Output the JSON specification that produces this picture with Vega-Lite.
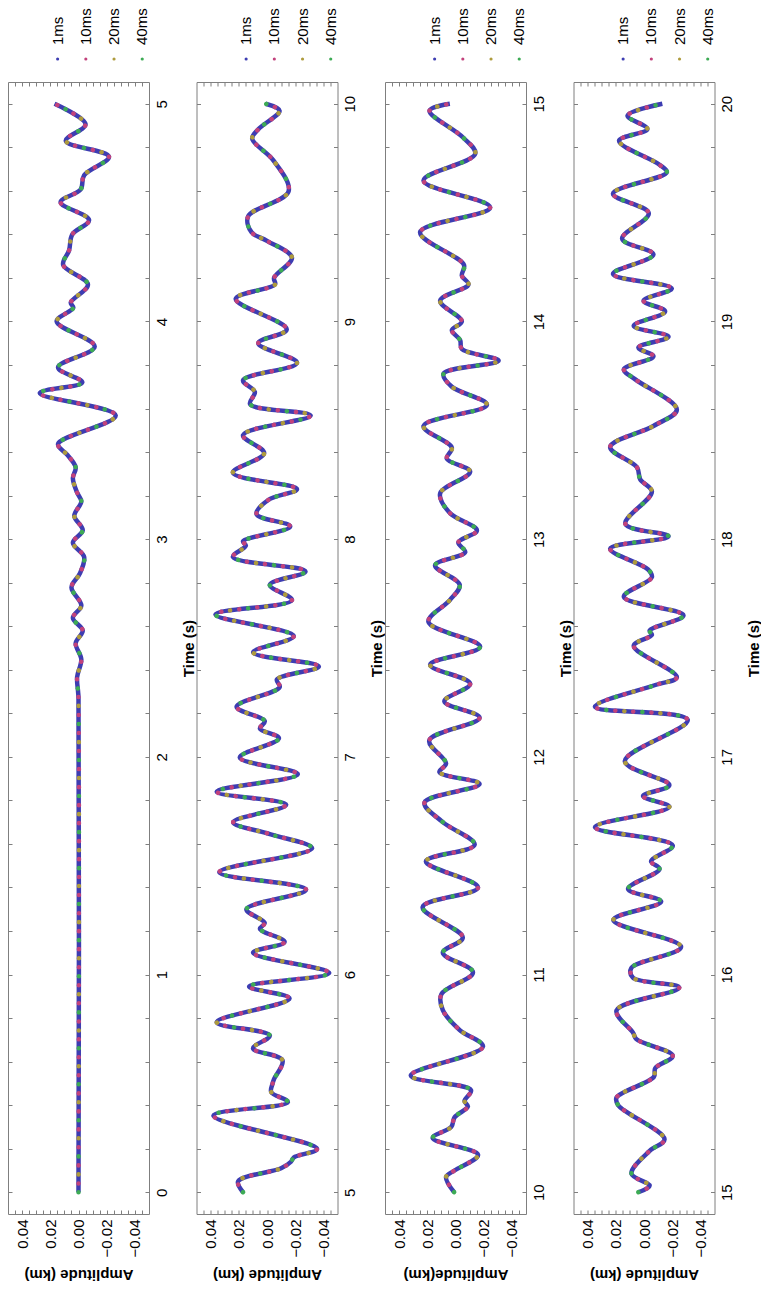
{
  "$schema": "https://vega.github.io/schema/vega-lite/v6.json",
  "background": "white",
  "padding": {"left": 7, "top": 8, "right": 0, "bottom": 0},
  "autosize": {"type": "pad"},
  "config": {
    "font": "Liberation Sans",
    "axis": {"labelFont": "Liberation Sans", "titleFont": "Liberation Sans", "labelColor": "#000", "titleColor": "#000", "tickColor": "#7f7f7f", "tickWidth": 1, "domain": false, "grid": false, "labelFontSize": 15, "titleFontSize": 15, "titleFontWeight": "bold"},
    "view": {"stroke": "#7f7f7f", "strokeWidth": 1}
  },
  "datasets": {
    "series": [{"series": "1ms"}, {"series": "10ms"}, {"series": "20ms"}, {"series": "40ms"}],
    "wave": [
      {"t": 0, "amp": 0}, {"t": 2.27, "amp": 0}, {"t": 2.3, "amp": 0.0003}, {"t": 2.366, "amp": 0.001}, {"t": 2.448, "amp": -0.002},
      {"t": 2.522, "amp": 0.002}, {"t": 2.58, "amp": -0.003}, {"t": 2.638, "amp": 0.004}, {"t": 2.695, "amp": -0.002}, {"t": 2.778, "amp": 0.005},
      {"t": 2.843, "amp": -0.001}, {"t": 2.918, "amp": -0.004}, {"t": 2.984, "amp": 0.004}, {"t": 3.041, "amp": -0.003}, {"t": 3.107, "amp": 0.003},
      {"t": 3.173, "amp": -0.002}, {"t": 3.214, "amp": 0.001}, {"t": 3.28, "amp": 0.004}, {"t": 3.33, "amp": 0.002}, {"t": 3.387, "amp": 0.0079},
      {"t": 3.437, "amp": 0.0145}, {"t": 3.568, "amp": -0.0264}, {"t": 3.671, "amp": 0.0275}, {"t": 3.72, "amp": -0.0027}, {"t": 3.789, "amp": 0.0145},
      {"t": 3.885, "amp": -0.0115}, {"t": 4.0, "amp": 0.0155}, {"t": 4.063, "amp": 0.0037}, {"t": 4.087, "amp": 0.0055}, {"t": 4.17, "amp": -0.0067},
      {"t": 4.26, "amp": 0.0109}, {"t": 4.326, "amp": 0.0067}, {"t": 4.4, "amp": 0.0044}, {"t": 4.466, "amp": -0.0075}, {"t": 4.548, "amp": 0.0127},
      {"t": 4.606, "amp": -0.0015}, {"t": 4.672, "amp": -0.004}, {"t": 4.757, "amp": -0.0216}, {"t": 4.83, "amp": 0.009}, {"t": 4.906, "amp": -0.005},
      {"t": 5.0, "amp": 0.017}, {"t": 5.05, "amp": 0.0205}, {"t": 5.11, "amp": -0.01}, {"t": 5.14, "amp": -0.017}, {"t": 5.16, "amp": -0.019},
      {"t": 5.199, "amp": -0.0355}, {"t": 5.352, "amp": 0.038}, {"t": 5.414, "amp": -0.0148}, {"t": 5.46, "amp": -0.003}, {"t": 5.5, "amp": -0.004},
      {"t": 5.52, "amp": -0.005}, {"t": 5.606, "amp": -0.011}, {"t": 5.661, "amp": 0.0099}, {"t": 5.72, "amp": -0.002}, {"t": 5.781, "amp": 0.0357},
      {"t": 5.89, "amp": -0.016}, {"t": 5.945, "amp": 0.0127}, {"t": 6.007, "amp": -0.0442}, {"t": 6.1, "amp": 0.0099}, {"t": 6.15, "amp": -0.0125},
      {"t": 6.21, "amp": 0.005}, {"t": 6.237, "amp": 0.0016}, {"t": 6.3, "amp": 0.0146}, {"t": 6.39, "amp": -0.0277}, {"t": 6.47, "amp": 0.0338},
      {"t": 6.58, "amp": -0.032}, {"t": 6.645, "amp": -0.002}, {"t": 6.7, "amp": 0.024}, {"t": 6.78, "amp": -0.0136}, {"t": 6.84, "amp": 0.0357},
      {"t": 6.92, "amp": -0.0219}, {"t": 6.997, "amp": 0.0193}, {"t": 7.085, "amp": -0.0085}, {"t": 7.13, "amp": 0.005}, {"t": 7.164, "amp": 0.0016},
      {"t": 7.23, "amp": 0.0216}, {"t": 7.32, "amp": -0.009}, {"t": 7.355, "amp": -0.007}, {"t": 7.415, "amp": -0.0368}, {"t": 7.48, "amp": 0.0098},
      {"t": 7.555, "amp": -0.019}, {"t": 7.654, "amp": 0.0366}, {"t": 7.72, "amp": -0.0177}, {"t": 7.79, "amp": -0.002}, {"t": 7.852, "amp": -0.0273},
      {"t": 7.918, "amp": 0.0242}, {"t": 7.97, "amp": 0.015}, {"t": 7.99, "amp": 0.017}, {"t": 8.058, "amp": -0.0165}, {"t": 8.115, "amp": 0.0074},
      {"t": 8.18, "amp": -0.0009}, {"t": 8.23, "amp": -0.0213}, {"t": 8.305, "amp": 0.0242}, {"t": 8.395, "amp": 0.002}, {"t": 8.478, "amp": 0.017},
      {"t": 8.568, "amp": -0.031}, {"t": 8.62, "amp": 0.012}, {"t": 8.676, "amp": 0.0086}, {"t": 8.73, "amp": 0.017}, {"t": 8.81, "amp": -0.0213},
      {"t": 8.9, "amp": 0.0062}, {"t": 8.964, "amp": -0.014}, {"t": 9.104, "amp": 0.0222}, {"t": 9.17, "amp": -0.0057}, {"t": 9.2, "amp": -0.005},
      {"t": 9.293, "amp": -0.0177}, {"t": 9.37, "amp": 0.0}, {"t": 9.41, "amp": 0.011}, {"t": 9.483, "amp": 0.0134}, {"t": 9.598, "amp": -0.0153},
      {"t": 9.74, "amp": -0.0045}, {"t": 9.84, "amp": 0.0105}, {"t": 9.884, "amp": 0.006}, {"t": 9.968, "amp": -0.0089}, {"t": 10.0, "amp": 0.001},
      {"t": 10.07, "amp": 0.0067}, {"t": 10.1, "amp": 0.0007}, {"t": 10.172, "amp": -0.016}, {"t": 10.249, "amp": 0.0162}, {"t": 10.3, "amp": 0.003},
      {"t": 10.344, "amp": 0.0007}, {"t": 10.394, "amp": -0.0088}, {"t": 10.419, "amp": -0.0064}, {"t": 10.469, "amp": -0.011}, {"t": 10.536, "amp": 0.0317},
      {"t": 10.669, "amp": -0.0195}, {"t": 10.745, "amp": -0.003}, {"t": 10.836, "amp": 0.009}, {"t": 10.91, "amp": 0.01}, {"t": 11.01, "amp": -0.0124},
      {"t": 11.1, "amp": 0.009}, {"t": 11.17, "amp": -0.0052}, {"t": 11.31, "amp": 0.0233}, {"t": 11.4, "amp": -0.016}, {"t": 11.52, "amp": 0.021},
      {"t": 11.596, "amp": -0.0136}, {"t": 11.7, "amp": 0.009}, {"t": 11.79, "amp": 0.022}, {"t": 11.875, "amp": -0.0171}, {"t": 11.93, "amp": 0.0114},
      {"t": 11.97, "amp": 0.0067}, {"t": 12.075, "amp": 0.0186}, {"t": 12.18, "amp": -0.0171}, {"t": 12.255, "amp": 0.0079}, {"t": 12.336, "amp": -0.0104},
      {"t": 12.423, "amp": 0.018}, {"t": 12.506, "amp": -0.0175}, {"t": 12.62, "amp": 0.0192}, {"t": 12.72, "amp": 0.004}, {"t": 12.79, "amp": -0.003},
      {"t": 12.88, "amp": 0.0145}, {"t": 12.94, "amp": -0.0069}, {"t": 12.985, "amp": -0.002}, {"t": 13.04, "amp": -0.0152}, {"t": 13.12, "amp": 0.004},
      {"t": 13.21, "amp": 0.0109}, {"t": 13.31, "amp": -0.0104}, {"t": 13.37, "amp": 0.0062}, {"t": 13.42, "amp": 0.0026}, {"t": 13.52, "amp": 0.0227},
      {"t": 13.617, "amp": -0.0223}, {"t": 13.7, "amp": 0.0026}, {"t": 13.76, "amp": 0.0085}, {"t": 13.82, "amp": -0.0306}, {"t": 13.873, "amp": -0.0045},
      {"t": 13.914, "amp": -0.0033}, {"t": 13.96, "amp": 0.0026}, {"t": 14.0, "amp": -0.0045}, {"t": 14.095, "amp": 0.0109}, {"t": 14.17, "amp": -0.0092},
      {"t": 14.21, "amp": -0.0045}, {"t": 14.26, "amp": -0.006}, {"t": 14.41, "amp": 0.0251}, {"t": 14.524, "amp": -0.0246}, {"t": 14.647, "amp": 0.0227},
      {"t": 14.77, "amp": -0.014}, {"t": 14.846, "amp": -0.0052}, {"t": 14.968, "amp": 0.0184}, {"t": 15.0, "amp": 0.004}, {"t": 15.03, "amp": -0.004},
      {"t": 15.085, "amp": 0.0089}, {"t": 15.19, "amp": -0.004}, {"t": 15.243, "amp": -0.0146}, {"t": 15.4, "amp": 0.0183}, {"t": 15.435, "amp": 0.0195},
      {"t": 15.53, "amp": -0.007}, {"t": 15.57, "amp": -0.008}, {"t": 15.627, "amp": -0.0204}, {"t": 15.703, "amp": 0.0054}, {"t": 15.733, "amp": 0.0078},
      {"t": 15.835, "amp": 0.0195}, {"t": 15.94, "amp": -0.025}, {"t": 15.985, "amp": 0.0078}, {"t": 16.03, "amp": 0.009}, {"t": 16.127, "amp": -0.0263},
      {"t": 16.25, "amp": 0.0218}, {"t": 16.335, "amp": -0.0122}, {"t": 16.393, "amp": 0.0113}, {"t": 16.485, "amp": -0.011}, {"t": 16.52, "amp": -0.005},
      {"t": 16.593, "amp": -0.0204}, {"t": 16.677, "amp": 0.0348}, {"t": 16.77, "amp": -0.018}, {"t": 16.82, "amp": 0.0007}, {"t": 16.87, "amp": -0.018},
      {"t": 16.98, "amp": 0.0136}, {"t": 17.17, "amp": -0.031}, {"t": 17.23, "amp": 0.0348}, {"t": 17.33, "amp": -0.008}, {"t": 17.366, "amp": -0.0233},
      {"t": 17.51, "amp": 0.0073}, {"t": 17.56, "amp": -0.0056}, {"t": 17.58, "amp": -0.004}, {"t": 17.65, "amp": -0.028}, {"t": 17.735, "amp": 0.0143},
      {"t": 17.825, "amp": -0.0056}, {"t": 17.86, "amp": -0.003}, {"t": 17.956, "amp": 0.024}, {"t": 18.013, "amp": -0.0174}, {"t": 18.07, "amp": 0.0132},
      {"t": 18.218, "amp": -0.0056}, {"t": 18.275, "amp": 0.0027}, {"t": 18.33, "amp": 0.005}, {"t": 18.423, "amp": 0.024}, {"t": 18.52, "amp": -0.0067},
      {"t": 18.595, "amp": -0.0233}, {"t": 18.734, "amp": 0.0062}, {"t": 18.78, "amp": 0.0143}, {"t": 18.84, "amp": -0.0067}, {"t": 18.88, "amp": 0.004},
      {"t": 18.93, "amp": -0.0174}, {"t": 18.98, "amp": 0.0073}, {"t": 19.046, "amp": -0.015}, {"t": 19.095, "amp": 0.0003}, {"t": 19.152, "amp": -0.0197},
      {"t": 19.218, "amp": 0.022}, {"t": 19.308, "amp": -0.0067}, {"t": 19.38, "amp": 0.0155}, {"t": 19.497, "amp": -0.0034}, {"t": 19.587, "amp": 0.022},
      {"t": 19.685, "amp": -0.0162}, {"t": 19.72, "amp": -0.011}, {"t": 19.83, "amp": 0.0177}, {"t": 19.884, "amp": -0.0024}, {"t": 19.945, "amp": 0.0117},
      {"t": 20.0, "amp": -0.013}
    ]
  },
  "spacing": 12,
  "vconcat": [
    {
      "spacing": 47.5, "bounds": "flush",
      "hconcat": [
        {
          "width": 141, "height": 20, "view": {"stroke": null},
          "data": {"name": "series"},
          "encoding": {"x": {"field": "series", "type": "nominal", "sort": null, "scale": {"type": "point", "domain": ["1ms", "10ms", "20ms", "40ms"], "padding": 1.02, "align": 0.88}, "axis": null}},
          "layer": [
            {"mark": {"type": "point", "filled": true, "size": 10, "opacity": 1},
             "encoding": {"color": {"field": "series", "type": "nominal", "scale": {"domain": ["1ms", "10ms", "20ms", "40ms"], "range": ["#3d3db2", "#c2427c", "#ae9b3d", "#3dab55"]}, "legend": null}}},
            {"mark": {"type": "text", "angle": 270, "align": "left", "baseline": "middle", "fontSize": 15, "font": "Liberation Sans", "color": "#000", "yOffset": -14},
             "encoding": {"text": {"field": "series"}}}
          ]
        },
        {
          "width": 141, "height": 20, "view": {"stroke": null},
          "data": {"name": "series"},
          "encoding": {"x": {"field": "series", "type": "nominal", "sort": null, "scale": {"type": "point", "domain": ["1ms", "10ms", "20ms", "40ms"], "padding": 1.02, "align": 0.88}, "axis": null}},
          "layer": [
            {"mark": {"type": "point", "filled": true, "size": 10, "opacity": 1},
             "encoding": {"color": {"field": "series", "type": "nominal", "scale": {"domain": ["1ms", "10ms", "20ms", "40ms"], "range": ["#3d3db2", "#c2427c", "#ae9b3d", "#3dab55"]}, "legend": null}}},
            {"mark": {"type": "text", "angle": 270, "align": "left", "baseline": "middle", "fontSize": 15, "font": "Liberation Sans", "color": "#000", "yOffset": -14},
             "encoding": {"text": {"field": "series"}}}
          ]
        },
        {
          "width": 141, "height": 20, "view": {"stroke": null},
          "data": {"name": "series"},
          "encoding": {"x": {"field": "series", "type": "nominal", "sort": null, "scale": {"type": "point", "domain": ["1ms", "10ms", "20ms", "40ms"], "padding": 1.02, "align": 0.88}, "axis": null}},
          "layer": [
            {"mark": {"type": "point", "filled": true, "size": 10, "opacity": 1},
             "encoding": {"color": {"field": "series", "type": "nominal", "scale": {"domain": ["1ms", "10ms", "20ms", "40ms"], "range": ["#3d3db2", "#c2427c", "#ae9b3d", "#3dab55"]}, "legend": null}}},
            {"mark": {"type": "text", "angle": 270, "align": "left", "baseline": "middle", "fontSize": 15, "font": "Liberation Sans", "color": "#000", "yOffset": -14},
             "encoding": {"text": {"field": "series"}}}
          ]
        },
        {
          "width": 141, "height": 20, "view": {"stroke": null},
          "data": {"name": "series"},
          "encoding": {"x": {"field": "series", "type": "nominal", "sort": null, "scale": {"type": "point", "domain": ["1ms", "10ms", "20ms", "40ms"], "padding": 1.02, "align": 0.88}, "axis": null}},
          "layer": [
            {"mark": {"type": "point", "filled": true, "size": 10, "opacity": 1},
             "encoding": {"color": {"field": "series", "type": "nominal", "scale": {"domain": ["1ms", "10ms", "20ms", "40ms"], "range": ["#3d3db2", "#c2427c", "#ae9b3d", "#3dab55"]}, "legend": null}}},
            {"mark": {"type": "text", "angle": 270, "align": "left", "baseline": "middle", "fontSize": 15, "font": "Liberation Sans", "color": "#000", "yOffset": -14},
             "encoding": {"text": {"field": "series"}}}
          ]
        }
      ]
    },
    {
      "spacing": 47.5, "bounds": "flush",
      "hconcat": [
        {
          "width": 141, "height": 1132,
          "data": {"name": "wave"},
          "transform": [{"filter": "datum.t >= 0 && datum.t <= 5"}],
          "resolve": {"axis": {"x": "independent", "y": "independent"}},
          "layer": [
            {"mark": {"type": "line", "interpolate": "catmull-rom", "strokeWidth": 4.5},
             "encoding": {
               "x": {"field": "amp", "type": "quantitative", "scale": {"domain": [-0.05, 0.05], "reverse": true, "nice": false, "zero": false},
                     "axis": {"orient": "bottom", "values": [-0.045, -0.04, -0.035, -0.03, -0.025, -0.02, -0.015, -0.01, -0.005, 0, 0.005, 0.01, 0.015, 0.02, 0.025, 0.03, 0.035, 0.04, 0.045], "labelExpr": "abs(datum.value) < 0.041 && abs(datum.value*50 - round(datum.value*50)) < 1e-6 ? format(datum.value, '.2f') : ''", "labelAngle": 270, "labelAlign": "right", "labelBaseline": "middle", "labelPadding": 9, "labelOverlap": false, "labelFlush": false, "tickSize": -4, "title": "Amplitude (km)", "titleAngle": 180, "titleBaseline": "bottom", "titlePadding": 10}},
               "y": {"field": "t", "type": "quantitative", "scale": {"domain": [-0.1, 5.1], "nice": false, "zero": false},
                     "axis": {"orient": "right", "values": [0, 0.2, 0.4, 0.6, 0.8, 1, 1.2, 1.4, 1.6, 1.8, 2, 2.2, 2.4, 2.6, 2.8, 3, 3.2, 3.4, 3.6, 3.8, 4, 4.2, 4.4, 4.6, 4.8, 5], "labelExpr": "abs(datum.value - round(datum.value)) < 1e-6 ? format(datum.value, 'd') : ''", "labelAngle": 270, "labelAlign": "center", "labelBaseline": "middle", "labelPadding": 16, "labelOverlap": false, "labelFlush": false, "tickSize": -4, "title": "Time (s)", "titleAngle": 270, "titleBaseline": "top", "titlePadding": 12}},
               "order": {"field": "t", "type": "quantitative"},
               "color": {"datum": "1ms", "type": "nominal", "scale": {"domain": ["1ms", "10ms", "20ms", "40ms"], "range": ["#3d3db2", "#c2427c", "#ae9b3d", "#3dab55"]}, "legend": null}}},
            {"mark": {"type": "line", "interpolate": "catmull-rom", "strokeWidth": 4.5, "strokeCap": "round", "strokeDash": [0.1, 17.9], "strokeDashOffset": -9},
             "encoding": {
               "x": {"field": "amp", "type": "quantitative", "axis": {"orient": "top", "values": [-0.045, -0.04, -0.035, -0.03, -0.025, -0.02, -0.015, -0.01, -0.005, 0, 0.005, 0.01, 0.015, 0.02, 0.025, 0.03, 0.035, 0.04, 0.045], "labels": false, "tickSize": -4, "title": null}},
               "y": {"field": "t", "type": "quantitative", "axis": {"orient": "left", "values": [0, 0.2, 0.4, 0.6, 0.8, 1, 1.2, 1.4, 1.6, 1.8, 2, 2.2, 2.4, 2.6, 2.8, 3, 3.2, 3.4, 3.6, 3.8, 4, 4.2, 4.4, 4.6, 4.8, 5], "labels": false, "tickSize": -4, "title": null}},
               "order": {"field": "t", "type": "quantitative"},
               "color": {"datum": "10ms", "type": "nominal", "legend": null}}},
            {"mark": {"type": "line", "interpolate": "catmull-rom", "strokeWidth": 4.5, "strokeCap": "round", "strokeDash": [0.1, 35.9], "strokeDashOffset": -18},
             "encoding": {
               "x": {"field": "amp", "type": "quantitative", "axis": null},
               "y": {"field": "t", "type": "quantitative", "axis": null},
               "order": {"field": "t", "type": "quantitative"},
               "color": {"datum": "20ms", "type": "nominal", "legend": null}}},
            {"mark": {"type": "line", "interpolate": "catmull-rom", "strokeWidth": 4.5, "strokeCap": "round", "strokeDash": [0.1, 35.9], "strokeDashOffset": 0},
             "encoding": {
               "x": {"field": "amp", "type": "quantitative", "axis": null},
               "y": {"field": "t", "type": "quantitative", "axis": null},
               "order": {"field": "t", "type": "quantitative"},
               "color": {"datum": "40ms", "type": "nominal", "legend": null}}}
          ]
        },
        {
          "width": 141, "height": 1132,
          "data": {"name": "wave"},
          "transform": [{"filter": "datum.t >= 5 && datum.t <= 10"}],
          "resolve": {"axis": {"x": "independent", "y": "independent"}},
          "layer": [
            {"mark": {"type": "line", "interpolate": "catmull-rom", "strokeWidth": 4.5},
             "encoding": {
               "x": {"field": "amp", "type": "quantitative", "scale": {"domain": [-0.05, 0.05], "reverse": true, "nice": false, "zero": false},
                     "axis": {"orient": "bottom", "values": [-0.045, -0.04, -0.035, -0.03, -0.025, -0.02, -0.015, -0.01, -0.005, 0, 0.005, 0.01, 0.015, 0.02, 0.025, 0.03, 0.035, 0.04, 0.045], "labelExpr": "abs(datum.value) < 0.041 && abs(datum.value*50 - round(datum.value*50)) < 1e-6 ? format(datum.value, '.2f') : ''", "labelAngle": 270, "labelAlign": "right", "labelBaseline": "middle", "labelPadding": 9, "labelOverlap": false, "labelFlush": false, "tickSize": -4, "title": "Amplitude (km)", "titleAngle": 180, "titleBaseline": "bottom", "titlePadding": 10}},
               "y": {"field": "t", "type": "quantitative", "scale": {"domain": [4.9, 10.1], "nice": false, "zero": false},
                     "axis": {"orient": "right", "values": [5, 5.2, 5.4, 5.6, 5.8, 6, 6.2, 6.4, 6.6, 6.8, 7, 7.2, 7.4, 7.6, 7.8, 8, 8.2, 8.4, 8.6, 8.8, 9, 9.2, 9.4, 9.6, 9.8, 10], "labelExpr": "abs(datum.value - round(datum.value)) < 1e-6 ? format(datum.value, 'd') : ''", "labelAngle": 270, "labelAlign": "center", "labelBaseline": "middle", "labelPadding": 16, "labelOverlap": false, "labelFlush": false, "tickSize": -4, "title": "Time (s)", "titleAngle": 270, "titleBaseline": "top", "titlePadding": 12}},
               "order": {"field": "t", "type": "quantitative"},
               "color": {"datum": "1ms", "type": "nominal", "scale": {"domain": ["1ms", "10ms", "20ms", "40ms"], "range": ["#3d3db2", "#c2427c", "#ae9b3d", "#3dab55"]}, "legend": null}}},
            {"mark": {"type": "line", "interpolate": "catmull-rom", "strokeWidth": 4.5, "strokeCap": "round", "strokeDash": [0.1, 17.9], "strokeDashOffset": -9},
             "encoding": {
               "x": {"field": "amp", "type": "quantitative", "axis": {"orient": "top", "values": [-0.045, -0.04, -0.035, -0.03, -0.025, -0.02, -0.015, -0.01, -0.005, 0, 0.005, 0.01, 0.015, 0.02, 0.025, 0.03, 0.035, 0.04, 0.045], "labels": false, "tickSize": -4, "title": null}},
               "y": {"field": "t", "type": "quantitative", "axis": {"orient": "left", "values": [5, 5.2, 5.4, 5.6, 5.8, 6, 6.2, 6.4, 6.6, 6.8, 7, 7.2, 7.4, 7.6, 7.8, 8, 8.2, 8.4, 8.6, 8.8, 9, 9.2, 9.4, 9.6, 9.8, 10], "labels": false, "tickSize": -4, "title": null}},
               "order": {"field": "t", "type": "quantitative"},
               "color": {"datum": "10ms", "type": "nominal", "legend": null}}},
            {"mark": {"type": "line", "interpolate": "catmull-rom", "strokeWidth": 4.5, "strokeCap": "round", "strokeDash": [0.1, 35.9], "strokeDashOffset": -18},
             "encoding": {
               "x": {"field": "amp", "type": "quantitative", "axis": null},
               "y": {"field": "t", "type": "quantitative", "axis": null},
               "order": {"field": "t", "type": "quantitative"},
               "color": {"datum": "20ms", "type": "nominal", "legend": null}}},
            {"mark": {"type": "line", "interpolate": "catmull-rom", "strokeWidth": 4.5, "strokeCap": "round", "strokeDash": [0.1, 35.9], "strokeDashOffset": 0},
             "encoding": {
               "x": {"field": "amp", "type": "quantitative", "axis": null},
               "y": {"field": "t", "type": "quantitative", "axis": null},
               "order": {"field": "t", "type": "quantitative"},
               "color": {"datum": "40ms", "type": "nominal", "legend": null}}}
          ]
        },
        {
          "width": 141, "height": 1132,
          "data": {"name": "wave"},
          "transform": [{"filter": "datum.t >= 10 && datum.t <= 15"}],
          "resolve": {"axis": {"x": "independent", "y": "independent"}},
          "layer": [
            {"mark": {"type": "line", "interpolate": "catmull-rom", "strokeWidth": 4.5},
             "encoding": {
               "x": {"field": "amp", "type": "quantitative", "scale": {"domain": [-0.05, 0.05], "reverse": true, "nice": false, "zero": false},
                     "axis": {"orient": "bottom", "values": [-0.045, -0.04, -0.035, -0.03, -0.025, -0.02, -0.015, -0.01, -0.005, 0, 0.005, 0.01, 0.015, 0.02, 0.025, 0.03, 0.035, 0.04, 0.045], "labelExpr": "abs(datum.value) < 0.041 && abs(datum.value*50 - round(datum.value*50)) < 1e-6 ? format(datum.value, '.2f') : ''", "labelAngle": 270, "labelAlign": "right", "labelBaseline": "middle", "labelPadding": 9, "labelOverlap": false, "labelFlush": false, "tickSize": -4, "title": "Amplitude(km)", "titleAngle": 180, "titleBaseline": "bottom", "titlePadding": 10}},
               "y": {"field": "t", "type": "quantitative", "scale": {"domain": [9.9, 15.1], "nice": false, "zero": false},
                     "axis": {"orient": "right", "values": [10, 10.2, 10.4, 10.6, 10.8, 11, 11.2, 11.4, 11.6, 11.8, 12, 12.2, 12.4, 12.6, 12.8, 13, 13.2, 13.4, 13.6, 13.8, 14, 14.2, 14.4, 14.6, 14.8, 15], "labelExpr": "abs(datum.value - round(datum.value)) < 1e-6 ? format(datum.value, 'd') : ''", "labelAngle": 270, "labelAlign": "center", "labelBaseline": "middle", "labelPadding": 16, "labelOverlap": false, "labelFlush": false, "tickSize": -4, "title": "Time (s)", "titleAngle": 270, "titleBaseline": "top", "titlePadding": 12}},
               "order": {"field": "t", "type": "quantitative"},
               "color": {"datum": "1ms", "type": "nominal", "scale": {"domain": ["1ms", "10ms", "20ms", "40ms"], "range": ["#3d3db2", "#c2427c", "#ae9b3d", "#3dab55"]}, "legend": null}}},
            {"mark": {"type": "line", "interpolate": "catmull-rom", "strokeWidth": 4.5, "strokeCap": "round", "strokeDash": [0.1, 17.9], "strokeDashOffset": -9},
             "encoding": {
               "x": {"field": "amp", "type": "quantitative", "axis": {"orient": "top", "values": [-0.045, -0.04, -0.035, -0.03, -0.025, -0.02, -0.015, -0.01, -0.005, 0, 0.005, 0.01, 0.015, 0.02, 0.025, 0.03, 0.035, 0.04, 0.045], "labels": false, "tickSize": -4, "title": null}},
               "y": {"field": "t", "type": "quantitative", "axis": {"orient": "left", "values": [10, 10.2, 10.4, 10.6, 10.8, 11, 11.2, 11.4, 11.6, 11.8, 12, 12.2, 12.4, 12.6, 12.8, 13, 13.2, 13.4, 13.6, 13.8, 14, 14.2, 14.4, 14.6, 14.8, 15], "labels": false, "tickSize": -4, "title": null}},
               "order": {"field": "t", "type": "quantitative"},
               "color": {"datum": "10ms", "type": "nominal", "legend": null}}},
            {"mark": {"type": "line", "interpolate": "catmull-rom", "strokeWidth": 4.5, "strokeCap": "round", "strokeDash": [0.1, 35.9], "strokeDashOffset": -18},
             "encoding": {
               "x": {"field": "amp", "type": "quantitative", "axis": null},
               "y": {"field": "t", "type": "quantitative", "axis": null},
               "order": {"field": "t", "type": "quantitative"},
               "color": {"datum": "20ms", "type": "nominal", "legend": null}}},
            {"mark": {"type": "line", "interpolate": "catmull-rom", "strokeWidth": 4.5, "strokeCap": "round", "strokeDash": [0.1, 35.9], "strokeDashOffset": 0},
             "encoding": {
               "x": {"field": "amp", "type": "quantitative", "axis": null},
               "y": {"field": "t", "type": "quantitative", "axis": null},
               "order": {"field": "t", "type": "quantitative"},
               "color": {"datum": "40ms", "type": "nominal", "legend": null}}}
          ]
        },
        {
          "width": 141, "height": 1132,
          "data": {"name": "wave"},
          "transform": [{"filter": "datum.t >= 15 && datum.t <= 20"}],
          "resolve": {"axis": {"x": "independent", "y": "independent"}},
          "layer": [
            {"mark": {"type": "line", "interpolate": "catmull-rom", "strokeWidth": 4.5},
             "encoding": {
               "x": {"field": "amp", "type": "quantitative", "scale": {"domain": [-0.05, 0.05], "reverse": true, "nice": false, "zero": false},
                     "axis": {"orient": "bottom", "values": [-0.045, -0.04, -0.035, -0.03, -0.025, -0.02, -0.015, -0.01, -0.005, 0, 0.005, 0.01, 0.015, 0.02, 0.025, 0.03, 0.035, 0.04, 0.045], "labelExpr": "abs(datum.value) < 0.041 && abs(datum.value*50 - round(datum.value*50)) < 1e-6 ? format(datum.value, '.2f') : ''", "labelAngle": 270, "labelAlign": "right", "labelBaseline": "middle", "labelPadding": 9, "labelOverlap": false, "labelFlush": false, "tickSize": -4, "title": "Amplitude (km)", "titleAngle": 180, "titleBaseline": "bottom", "titlePadding": 10}},
               "y": {"field": "t", "type": "quantitative", "scale": {"domain": [14.9, 20.1], "nice": false, "zero": false},
                     "axis": {"orient": "right", "values": [15, 15.2, 15.4, 15.6, 15.8, 16, 16.2, 16.4, 16.6, 16.8, 17, 17.2, 17.4, 17.6, 17.8, 18, 18.2, 18.4, 18.6, 18.8, 19, 19.2, 19.4, 19.6, 19.8, 20], "labelExpr": "abs(datum.value - round(datum.value)) < 1e-6 ? format(datum.value, 'd') : ''", "labelAngle": 270, "labelAlign": "center", "labelBaseline": "middle", "labelPadding": 16, "labelOverlap": false, "labelFlush": false, "tickSize": -4, "title": "Time (s)", "titleAngle": 270, "titleBaseline": "top", "titlePadding": 12}},
               "order": {"field": "t", "type": "quantitative"},
               "color": {"datum": "1ms", "type": "nominal", "scale": {"domain": ["1ms", "10ms", "20ms", "40ms"], "range": ["#3d3db2", "#c2427c", "#ae9b3d", "#3dab55"]}, "legend": null}}},
            {"mark": {"type": "line", "interpolate": "catmull-rom", "strokeWidth": 4.5, "strokeCap": "round", "strokeDash": [0.1, 17.9], "strokeDashOffset": -9},
             "encoding": {
               "x": {"field": "amp", "type": "quantitative", "axis": {"orient": "top", "values": [-0.045, -0.04, -0.035, -0.03, -0.025, -0.02, -0.015, -0.01, -0.005, 0, 0.005, 0.01, 0.015, 0.02, 0.025, 0.03, 0.035, 0.04, 0.045], "labels": false, "tickSize": -4, "title": null}},
               "y": {"field": "t", "type": "quantitative", "axis": {"orient": "left", "values": [15, 15.2, 15.4, 15.6, 15.8, 16, 16.2, 16.4, 16.6, 16.8, 17, 17.2, 17.4, 17.6, 17.8, 18, 18.2, 18.4, 18.6, 18.8, 19, 19.2, 19.4, 19.6, 19.8, 20], "labels": false, "tickSize": -4, "title": null}},
               "order": {"field": "t", "type": "quantitative"},
               "color": {"datum": "10ms", "type": "nominal", "legend": null}}},
            {"mark": {"type": "line", "interpolate": "catmull-rom", "strokeWidth": 4.5, "strokeCap": "round", "strokeDash": [0.1, 35.9], "strokeDashOffset": -18},
             "encoding": {
               "x": {"field": "amp", "type": "quantitative", "axis": null},
               "y": {"field": "t", "type": "quantitative", "axis": null},
               "order": {"field": "t", "type": "quantitative"},
               "color": {"datum": "20ms", "type": "nominal", "legend": null}}},
            {"mark": {"type": "line", "interpolate": "catmull-rom", "strokeWidth": 4.5, "strokeCap": "round", "strokeDash": [0.1, 35.9], "strokeDashOffset": 0},
             "encoding": {
               "x": {"field": "amp", "type": "quantitative", "axis": null},
               "y": {"field": "t", "type": "quantitative", "axis": null},
               "order": {"field": "t", "type": "quantitative"},
               "color": {"datum": "40ms", "type": "nominal", "legend": null}}}
          ]
        }
      ]
    }
  ]
}
